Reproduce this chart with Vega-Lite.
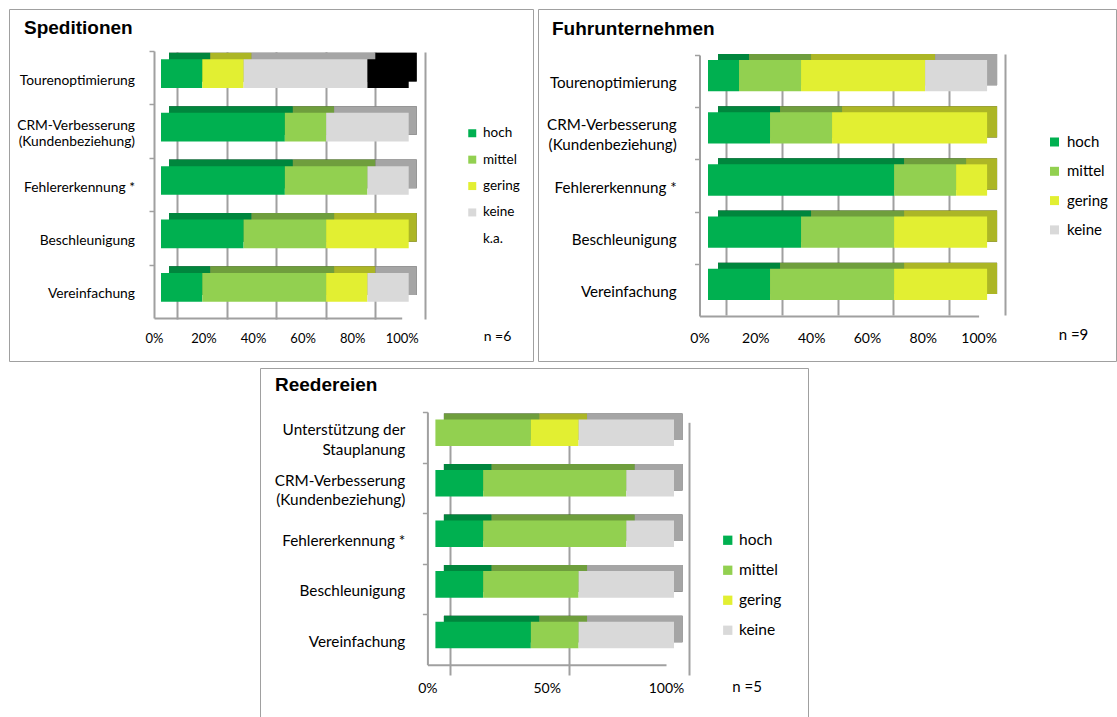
{
  "$schema": "https://vega.github.io/schema/vega-lite/v6.json",
  "padding": {"left": 8, "top": 8, "right": 4, "bottom": 0},
  "spacing": 5,
  "config": {
    "view": {"stroke": "#a0a0a0", "strokeWidth": 1},
    "axis": {"labelFont": "Lato", "titleFont": "Lato", "labelColor": "#000", "titleColor": "#000", "titleFontWeight": "normal", "domainColor": "#a0a0a0", "domainWidth": 2, "gridColor": "#a0a0a0", "gridWidth": 2, "tickColor": "#a0a0a0", "tickWidth": 1.5, "labelFlush": false, "labelOverlap": false, "labelBound": false},
    "legend": {"labelFont": "Lato", "labelColor": "#000", "symbolType": "square", "symbolStrokeWidth": 0, "symbolOpacity": 1},
    "title": {"font": "Liberation Sans", "fontWeight": "bold", "fontSize": 19, "color": "#000", "anchor": "start", "frame": "group", "baseline": "alphabetic"}
  },
  "data": {"values": [
    {"Panel": "Speditionen", "Nutzen": "Tourenoptimierung", "Bewertung": "hoch", "Anzahl": 1},
    {"Panel": "Speditionen", "Nutzen": "Tourenoptimierung", "Bewertung": "gering", "Anzahl": 1},
    {"Panel": "Speditionen", "Nutzen": "Tourenoptimierung", "Bewertung": "keine", "Anzahl": 3},
    {"Panel": "Speditionen", "Nutzen": "Tourenoptimierung", "Bewertung": "k.a.", "Anzahl": 1},
    {"Panel": "Speditionen", "Nutzen": "CRM-Verbesserung (Kundenbeziehung)", "Bewertung": "hoch", "Anzahl": 3},
    {"Panel": "Speditionen", "Nutzen": "CRM-Verbesserung (Kundenbeziehung)", "Bewertung": "mittel", "Anzahl": 1},
    {"Panel": "Speditionen", "Nutzen": "CRM-Verbesserung (Kundenbeziehung)", "Bewertung": "keine", "Anzahl": 2},
    {"Panel": "Speditionen", "Nutzen": "Fehlererkennung *", "Bewertung": "hoch", "Anzahl": 3},
    {"Panel": "Speditionen", "Nutzen": "Fehlererkennung *", "Bewertung": "mittel", "Anzahl": 2},
    {"Panel": "Speditionen", "Nutzen": "Fehlererkennung *", "Bewertung": "keine", "Anzahl": 1},
    {"Panel": "Speditionen", "Nutzen": "Beschleunigung", "Bewertung": "hoch", "Anzahl": 2},
    {"Panel": "Speditionen", "Nutzen": "Beschleunigung", "Bewertung": "mittel", "Anzahl": 2},
    {"Panel": "Speditionen", "Nutzen": "Beschleunigung", "Bewertung": "gering", "Anzahl": 2},
    {"Panel": "Speditionen", "Nutzen": "Vereinfachung", "Bewertung": "hoch", "Anzahl": 1},
    {"Panel": "Speditionen", "Nutzen": "Vereinfachung", "Bewertung": "mittel", "Anzahl": 3},
    {"Panel": "Speditionen", "Nutzen": "Vereinfachung", "Bewertung": "gering", "Anzahl": 1},
    {"Panel": "Speditionen", "Nutzen": "Vereinfachung", "Bewertung": "keine", "Anzahl": 1},
    {"Panel": "Fuhrunternehmen", "Nutzen": "Tourenoptimierung", "Bewertung": "hoch", "Anzahl": 1},
    {"Panel": "Fuhrunternehmen", "Nutzen": "Tourenoptimierung", "Bewertung": "mittel", "Anzahl": 2},
    {"Panel": "Fuhrunternehmen", "Nutzen": "Tourenoptimierung", "Bewertung": "gering", "Anzahl": 4},
    {"Panel": "Fuhrunternehmen", "Nutzen": "Tourenoptimierung", "Bewertung": "keine", "Anzahl": 2},
    {"Panel": "Fuhrunternehmen", "Nutzen": "CRM-Verbesserung (Kundenbeziehung)", "Bewertung": "hoch", "Anzahl": 2},
    {"Panel": "Fuhrunternehmen", "Nutzen": "CRM-Verbesserung (Kundenbeziehung)", "Bewertung": "mittel", "Anzahl": 2},
    {"Panel": "Fuhrunternehmen", "Nutzen": "CRM-Verbesserung (Kundenbeziehung)", "Bewertung": "gering", "Anzahl": 5},
    {"Panel": "Fuhrunternehmen", "Nutzen": "Fehlererkennung *", "Bewertung": "hoch", "Anzahl": 6},
    {"Panel": "Fuhrunternehmen", "Nutzen": "Fehlererkennung *", "Bewertung": "mittel", "Anzahl": 2},
    {"Panel": "Fuhrunternehmen", "Nutzen": "Fehlererkennung *", "Bewertung": "gering", "Anzahl": 1},
    {"Panel": "Fuhrunternehmen", "Nutzen": "Beschleunigung", "Bewertung": "hoch", "Anzahl": 3},
    {"Panel": "Fuhrunternehmen", "Nutzen": "Beschleunigung", "Bewertung": "mittel", "Anzahl": 3},
    {"Panel": "Fuhrunternehmen", "Nutzen": "Beschleunigung", "Bewertung": "gering", "Anzahl": 3},
    {"Panel": "Fuhrunternehmen", "Nutzen": "Vereinfachung", "Bewertung": "hoch", "Anzahl": 2},
    {"Panel": "Fuhrunternehmen", "Nutzen": "Vereinfachung", "Bewertung": "mittel", "Anzahl": 4},
    {"Panel": "Fuhrunternehmen", "Nutzen": "Vereinfachung", "Bewertung": "gering", "Anzahl": 3},
    {"Panel": "Reedereien", "Nutzen": "Unterstützung der Stauplanung", "Bewertung": "mittel", "Anzahl": 2},
    {"Panel": "Reedereien", "Nutzen": "Unterstützung der Stauplanung", "Bewertung": "gering", "Anzahl": 1},
    {"Panel": "Reedereien", "Nutzen": "Unterstützung der Stauplanung", "Bewertung": "keine", "Anzahl": 2},
    {"Panel": "Reedereien", "Nutzen": "CRM-Verbesserung (Kundenbeziehung)", "Bewertung": "hoch", "Anzahl": 1},
    {"Panel": "Reedereien", "Nutzen": "CRM-Verbesserung (Kundenbeziehung)", "Bewertung": "mittel", "Anzahl": 3},
    {"Panel": "Reedereien", "Nutzen": "CRM-Verbesserung (Kundenbeziehung)", "Bewertung": "keine", "Anzahl": 1},
    {"Panel": "Reedereien", "Nutzen": "Fehlererkennung *", "Bewertung": "hoch", "Anzahl": 1},
    {"Panel": "Reedereien", "Nutzen": "Fehlererkennung *", "Bewertung": "mittel", "Anzahl": 3},
    {"Panel": "Reedereien", "Nutzen": "Fehlererkennung *", "Bewertung": "keine", "Anzahl": 1},
    {"Panel": "Reedereien", "Nutzen": "Beschleunigung", "Bewertung": "hoch", "Anzahl": 1},
    {"Panel": "Reedereien", "Nutzen": "Beschleunigung", "Bewertung": "mittel", "Anzahl": 2},
    {"Panel": "Reedereien", "Nutzen": "Beschleunigung", "Bewertung": "keine", "Anzahl": 2},
    {"Panel": "Reedereien", "Nutzen": "Vereinfachung", "Bewertung": "hoch", "Anzahl": 2},
    {"Panel": "Reedereien", "Nutzen": "Vereinfachung", "Bewertung": "mittel", "Anzahl": 1},
    {"Panel": "Reedereien", "Nutzen": "Vereinfachung", "Bewertung": "keine", "Anzahl": 2}
  ]},
  "resolve": {"scale": {"x": "independent", "y": "independent", "color": "independent"}, "legend": {"color": "independent"}, "axis": {"x": "independent", "y": "independent"}},
  "vconcat": [
    {
      "spacing": 3,
      "resolve": {"scale": {"x": "independent", "y": "independent", "color": "independent"}, "legend": {"color": "independent"}, "axis": {"x": "independent", "y": "independent"}},
      "hconcat": [
        {
          "width": 524, "height": 352,
          "title": {"text": "Speditionen", "dx": 15, "offset": -28.5},
          "transform": [
            {"filter": "datum.Panel === 'Speditionen'"},
            {"calculate": "indexof(['hoch', 'mittel', 'gering', 'keine', 'k.a.'], datum.Bewertung)", "as": "Rang"}
          ],
          "encoding": {
            "y": {"field": "Nutzen", "type": "nominal", "sort": ["Tourenoptimierung", "CRM-Verbesserung (Kundenbeziehung)", "Fehlererkennung *", "Beschleunigung", "Vereinfachung"],
              "scale": {"range": [42, 309], "paddingInner": 0.463, "paddingOuter": 0.2315},
              "axis": {"title": null, "offset": -145, "bandPosition": 0, "tickOffset": -12.4,
                "labelOffset": {"condition": {"test": "indexof(datum.value, '(') >= 0", "value": 6.4}, "value": 14.9},
                "tickSize": 5, "labelPadding": 14.5, "labelFontSize": 13.8, "labelLineHeight": 16, "labelLimit": 0,
                "labelExpr": "datum.value === 'CRM-Verbesserung (Kundenbeziehung)' ? ['CRM-Verbesserung', '(Kundenbeziehung)'] : datum.value"}},
            "x": {"field": "Anzahl", "type": "quantitative", "stack": "normalize",
              "scale": {"range": [145, 392.7]},
              "axis": {"offset": -43, "values": [0, 0.2, 0.4, 0.6, 0.8, 1], "format": "%", "grid": true, "tickOffset": 23, "labelOffset": -23, "ticks": false, "labelPadding": 14.3, "labelFontSize": 13,
                "title": "n =6", "titleX": 488, "titleY": 18, "titleFontSize": 14, "titleBaseline": "middle", "titleAlign": "center"}},
            "order": {"field": "Rang", "type": "quantitative"}
          },
          "layer": [
            {"mark": {"type": "bar", "color": "#000000", "xOffset": 15, "yOffset": -10.6},
             "encoding": {"detail": {"field": "Bewertung", "type": "nominal"}}},
            {"mark": {"type": "bar", "opacity": 0.76, "xOffset": 15, "yOffset": -10.6},
             "encoding": {"color": {"field": "Bewertung", "type": "nominal",
               "scale": {"domain": ["hoch", "mittel", "gering", "keine", "k.a."], "range": ["#00B050", "#92D050", "#E2EF32", "#D9D9D9", "#000000"]},
               "legend": {"title": null, "orient": "none", "legendX": 456.5, "legendY": 117.5, "symbolSize": 64, "labelFontSize": 13.5, "rowPadding": 11.4, "labelOffset": 4,
                 "encode": {"symbols": {"update": {"opacity": {"signal": "datum.value === 'k.a.' ? 0 : 1"}}}}}}}},
            {"mark": {"type": "bar", "xOffset": 7, "yOffset": -4},
             "encoding": {"color": {"field": "Bewertung", "type": "nominal"}}}
          ]
        },
        {
          "width": 578, "height": 352,
          "title": {"text": "Fuhrunternehmen", "dx": 14, "offset": -29.5},
          "transform": [
            {"filter": "datum.Panel === 'Fuhrunternehmen'"},
            {"calculate": "indexof(['hoch', 'mittel', 'gering', 'keine', 'k.a.'], datum.Bewertung)", "as": "Rang"}
          ],
          "encoding": {
            "y": {"field": "Nutzen", "type": "nominal", "sort": ["Tourenoptimierung", "CRM-Verbesserung (Kundenbeziehung)", "Fehlererkennung *", "Beschleunigung", "Vereinfachung"],
              "scale": {"range": [46, 307], "paddingInner": 0.4, "paddingOuter": 0.2},
              "axis": {"title": null, "offset": -161.5, "bandPosition": 0, "tickOffset": -10.4,
                "labelOffset": {"condition": {"test": "indexof(datum.value, '(') >= 0", "value": 1.9}, "value": 11.9},
                "tickSize": 5, "labelPadding": 18.3, "labelFontSize": 15.2, "labelLineHeight": 20, "labelLimit": 0,
                "labelExpr": "datum.value === 'CRM-Verbesserung (Kundenbeziehung)' ? ['CRM-Verbesserung', '(Kundenbeziehung)'] : datum.value"}},
            "x": {"field": "Anzahl", "type": "quantitative", "stack": "normalize",
              "scale": {"range": [161.5, 440.6]},
              "axis": {"offset": -45, "values": [0, 0.2, 0.4, 0.6, 0.8, 1], "format": "%", "grid": true, "tickOffset": 26.5, "labelOffset": -26.5, "ticks": false, "labelPadding": 15.7, "labelFontSize": 14,
                "title": "n =9", "titleX": 535, "titleY": 18, "titleFontSize": 15, "titleBaseline": "middle", "titleAlign": "center"}},
            "order": {"field": "Rang", "type": "quantitative"}
          },
          "layer": [
            {"mark": {"type": "bar", "color": "#000000", "xOffset": 18.5, "yOffset": -11.5},
             "encoding": {"detail": {"field": "Bewertung", "type": "nominal"}}},
            {"mark": {"type": "bar", "opacity": 0.76, "xOffset": 18.5, "yOffset": -11.5},
             "encoding": {"color": {"field": "Bewertung", "type": "nominal",
               "scale": {"domain": ["hoch", "mittel", "gering", "keine"], "range": ["#00B050", "#92D050", "#E2EF32", "#D9D9D9"]},
               "legend": {"title": null, "orient": "none", "legendX": 509, "legendY": 125.5, "symbolSize": 81, "labelFontSize": 15, "rowPadding": 13.3, "labelOffset": 5,
                 "encode": {"symbols": {"update": {"opacity": {"value": 1}}}}}}}},
            {"mark": {"type": "bar", "xOffset": 8.5, "yOffset": -5.5},
             "encoding": {"color": {"field": "Bewertung", "type": "nominal"}}}
          ]
        }
      ]
    },
    {
      "spacing": 0,
      "resolve": {"scale": {"x": "independent", "y": "independent", "color": "independent"}, "legend": {"color": "independent"}, "axis": {"x": "independent", "y": "independent"}},
      "hconcat": [
        {"width": 250, "height": 351, "data": {"values": []}, "mark": "point", "view": {"stroke": null}},
        {
          "width": 548, "height": 351,
          "title": {"text": "Reedereien", "dx": 15, "offset": -27},
          "transform": [
            {"filter": "datum.Panel === 'Reedereien'"},
            {"calculate": "indexof(['hoch', 'mittel', 'gering', 'keine', 'k.a.'], datum.Bewertung)", "as": "Rang"}
          ],
          "encoding": {
            "y": {"field": "Nutzen", "type": "nominal", "sort": ["Unterstützung der Stauplanung", "CRM-Verbesserung (Kundenbeziehung)", "Fehlererkennung *", "Beschleunigung", "Vereinfachung"],
              "scale": {"range": [44, 296.7], "paddingInner": 0.475, "paddingOuter": 0.2375},
              "axis": {"title": null, "offset": -167.4, "bandPosition": 0, "tickOffset": -12,
                "labelOffset": {"condition": {"test": "indexof(datum.value, '(') >= 0 || indexof(datum.value, 'Stau') >= 0", "value": 4.25}, "value": 14},
                "tickSize": 5, "labelPadding": 17.6, "labelFontSize": 15.3, "labelLineHeight": 19.5, "labelLimit": 0,
                "labelExpr": "datum.value === 'CRM-Verbesserung (Kundenbeziehung)' ? ['CRM-Verbesserung', '(Kundenbeziehung)'] : datum.value === 'Unterstützung der Stauplanung' ? ['Unterstützung der', 'Stauplanung'] : datum.value"}},
            "x": {"field": "Anzahl", "type": "quantitative", "stack": "normalize",
              "scale": {"range": [167.4, 406]},
              "axis": {"offset": -54.3, "values": [0, 0.5, 1], "format": "%", "grid": true, "tickOffset": 22.5, "labelOffset": -22.5, "ticks": false, "labelPadding": 16.3, "labelFontSize": 14,
                "title": "n =5", "titleX": 486.6, "titleY": 21.3, "titleFontSize": 15, "titleBaseline": "middle", "titleAlign": "center"}},
            "order": {"field": "Rang", "type": "quantitative"}
          },
          "layer": [
            {"mark": {"type": "bar", "color": "#000000", "xOffset": 16.5, "yOffset": -10.5},
             "encoding": {"detail": {"field": "Bewertung", "type": "nominal"}}},
            {"mark": {"type": "bar", "opacity": 0.76, "xOffset": 16.5, "yOffset": -10.5},
             "encoding": {"color": {"field": "Bewertung", "type": "nominal",
               "scale": {"domain": ["hoch", "mittel", "gering", "keine"], "range": ["#00B050", "#92D050", "#E2EF32", "#D9D9D9"]},
               "legend": {"title": null, "orient": "none", "legendX": 460, "legendY": 164.5, "symbolSize": 86, "labelFontSize": 15.5, "rowPadding": 13, "labelOffset": 3.5,
                 "encode": {"symbols": {"update": {"opacity": {"value": 1}}}}}}}},
            {"mark": {"type": "bar", "xOffset": 8, "yOffset": -4.5},
             "encoding": {"color": {"field": "Bewertung", "type": "nominal"}}}
          ]
        }
      ]
    }
  ]
}
